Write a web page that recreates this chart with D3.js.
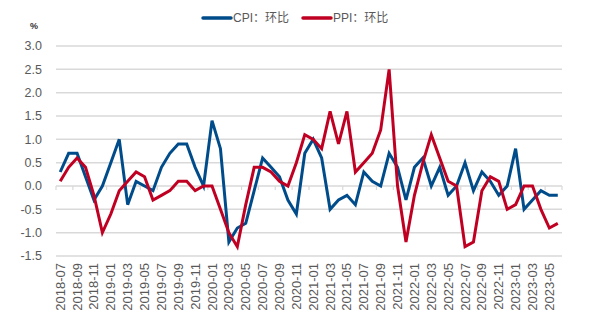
<!DOCTYPE html>
<html><head><meta charset="utf-8">
<script src="https://cdn.jsdelivr.net/npm/d3@7"></script>
<style>body{margin:0;background:#fff;}svg{display:block;}text{font-family:"Liberation Sans",Arial,"Noto Sans CJK SC",sans-serif;}</style>
</head><body><svg id="c" width="591" height="323"></svg>
<script>
const months = [];
for (let y = 2018; y <= 2023; y++) for (let m = 1; m <= 12; m++) {
  const k = y * 100 + m;
  if (k >= 201807 && k <= 202306) months.push(y + "-" + String(m).padStart(2, "0"));
}
const cpi = [0.3,0.7,0.7,0.2,-0.3,0.0,
  0.5,1.0,-0.4,0.1,0.0,-0.1,0.4,0.7,0.9,0.9,0.4,0.0,
  1.4,0.8,-1.2,-0.9,-0.8,-0.1,0.6,0.4,0.2,-0.3,-0.6,0.7,
  1.0,0.6,-0.5,-0.3,-0.2,-0.4,0.3,0.1,0.0,0.7,0.4,-0.3,
  0.4,0.6,0.0,0.4,-0.2,0.0,0.5,-0.1,0.3,0.1,-0.2,0.0,
  0.8,-0.5,-0.3,-0.1,-0.2,-0.2];
const ppi = [0.1,0.4,0.6,0.4,-0.2,-1.0,
  -0.6,-0.1,0.1,0.3,0.2,-0.3,-0.2,-0.1,0.1,0.1,-0.1,0.0,
  0.0,-0.5,-1.0,-1.3,-0.4,0.4,0.4,0.3,0.1,0.0,0.5,1.1,
  1.0,0.8,1.6,0.9,1.6,0.3,0.5,0.7,1.2,2.5,0.0,-1.2,
  -0.2,0.5,1.1,0.6,0.1,0.0,-1.3,-1.2,-0.1,0.2,0.1,-0.5,
  -0.4,0.0,0.0,-0.5,-0.9,-0.8];
const yTicks = [-1.5,-1.0,-0.5,0.0,0.5,1.0,1.5,2.0,2.5,3.0];
const seriesNames = ["CPI：环比", "PPI：环比"];
const colors = ["#004C8B", "#C00022"];

const svg = d3.select("#c");
const x = d3.scaleBand().domain(months).range([56, 562]);
const y = d3.scaleLinear().domain([-1.5, 3.0]).range([256, 46]);

// gridlines
svg.append("g").selectAll("line").data(yTicks).join("line")
  .attr("x1", 56).attr("x2", 562)
  .attr("y1", d => y(d)).attr("y2", d => y(d))
  .attr("stroke", "#d9d9d9").attr("stroke-width", 1.5);

// y labels
svg.append("g").selectAll("text").data(yTicks).join("text")
  .attr("x", 42).attr("y", d => y(d)).attr("dy", "0.35em")
  .attr("text-anchor", "end").attr("font-size", 12.5).attr("fill", "#595959")
  .text(d => d.toFixed(1));

svg.append("text").attr("x", 30).attr("y", 29).attr("font-size", 9).attr("font-weight", "bold")
  .attr("fill", "#333").text("%");

// zero axis ticks
const tickMonths = months.filter((d, i) => i % 2 === 0);
svg.append("g").selectAll("line").data(tickMonths.concat(["__end"])).join("line")
  .attr("x1", d => d === "__end" ? 562 : x(d)).attr("x2", d => d === "__end" ? 562 : x(d))
  .attr("y1", y(0)).attr("y2", y(0) + 4)
  .attr("stroke", "#d9d9d9").attr("stroke-width", 1.2);

// x labels
svg.append("g").selectAll("text").data(tickMonths).join("text")
  .attr("transform", d => `translate(${x(d) + x.bandwidth() / 2 + 4.5},263) rotate(-90)`)
  .attr("text-anchor", "end").attr("font-size", 13).attr("fill", "#595959")
  .text(d => d);

// lines
const line = d3.line().x((d, i) => x(months[i]) + x.bandwidth() / 2).y(d => y(d));
[cpi, ppi].forEach((s, k) => {
  svg.append("path").datum(s).attr("d", line).attr("fill", "none")
    .attr("stroke", colors[k]).attr("stroke-width", 3).attr("stroke-linejoin", "miter");
});

// legend
const lx = [203, 303];
seriesNames.forEach((n, k) => {
  svg.append("line").attr("x1", lx[k]).attr("x2", lx[k] + 28).attr("y1", 18).attr("y2", 18)
    .attr("stroke", colors[k]).attr("stroke-width", 3.5).attr("stroke-linecap", "round");
  svg.append("text").attr("x", lx[k] + 30).attr("y", 18).attr("dy", "0.35em")
    .attr("font-size", 12).attr("fill", "#595959").text(n);
});
</script></body></html>
